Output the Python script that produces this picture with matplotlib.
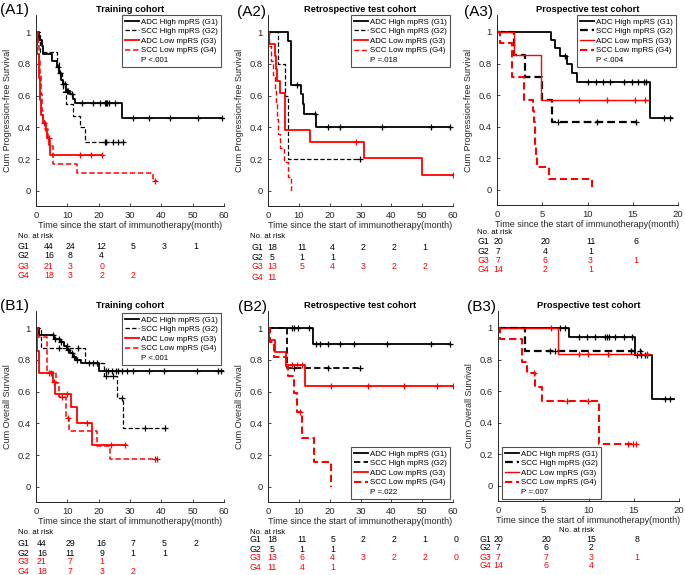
import matplotlib
matplotlib.use("Agg")
import matplotlib.pyplot as plt
import matplotlib.transforms as mtransforms
from matplotlib.lines import Line2D
import numpy as np

plt.rcParams["font.family"] = ["Liberation Sans", "DejaVu Sans"]

W, H = 685, 575
GREY = "#262626"
RED = "#ff0000"

GROUP_LABELS = ["ADC High mpRS (G1)", "SCC High mpRS (G2)",
                "ADC Low mpRS (G3)", "SCC Low mpRS (G4)"]
ROW_NAMES = ["G1", "G2", "G3", "G4"]

# ---- (A1) training cohort, PFS ----
A1_G1_T = [0, 1.0, 2.0, 2.3, 5.0, 6.6, 7.4, 7.9, 8.5, 9.6, 10.9, 11.7, 12.4, 27.3, 59.3]
A1_G1_S = [1, 0.95, 0.91, 0.86, 0.82, 0.78, 0.74, 0.70, 0.67, 0.63, 0.61, 0.58, 0.555, 0.46, 0.46]
A1_G1_C = [7.1, 7.7, 8.7, 9.3, 9.8, 10.3, 11.4, 14.6, 18.3, 20.4, 22.0, 22.3, 22.8, 23.2,
           25.2, 31.1, 36.1, 42.8, 51.8, 59.3]
A1_G2_T = [0, 1.3, 6.8, 7.4, 8.2, 8.7, 9.6, 11.7, 13.9, 15.6, 27.9]
A1_G2_S = [1, 0.875, 0.81, 0.75, 0.69, 0.625, 0.55, 0.47, 0.40, 0.31, 0.31]
A1_G2_C = [22.0, 22.3, 24.7, 26.3, 27.9]
A1_G3_T = [0, 0.4, 1.0, 1.4, 1.7, 2.3, 3.2, 3.6, 4.3, 4.5, 21.0]
A1_G3_S = [1, 0.86, 0.71, 0.57, 0.48, 0.43, 0.38, 0.33, 0.29, 0.225, 0.225]
A1_G3_C = [2.6, 4.0, 14.0, 17.4, 21.0]
A1_G4_T = [0, 0.6, 0.9, 1.2, 1.5, 1.8, 2.1, 2.9, 3.9, 4.5, 5.5, 13.2, 37.2, 38.5]
A1_G4_S = [1, 0.94, 0.83, 0.72, 0.61, 0.5, 0.44, 0.39, 0.33, 0.28, 0.17, 0.11, 0.06, 0.06]
A1_G4_C = [38.0]

# ---- (A2) retrospective test cohort, PFS ----
A2_G1_T = [0, 6.5, 7.4, 10.6, 11.2, 11.8, 15.5, 59.0]
A2_G1_S = [1, 0.945, 0.665, 0.61, 0.55, 0.485, 0.405, 0.405]
A2_G1_C = [9.4, 15.3, 19.4, 23.4, 36.9, 52.9, 59.0]
A2_G2_T = [0, 3.1, 5.6, 6.4, 29.9]
A2_G2_S = [1, 0.8, 0.6, 0.2, 0.2]
A2_G2_C = [29.9]
A2_G3_T = [0, 0.4, 2.2, 2.5, 2.9, 4.0, 5.6, 13.7, 31.0, 49.8, 60.0]
A2_G3_S = [1, 0.923, 0.846, 0.769, 0.692, 0.615, 0.385, 0.308, 0.205, 0.103, 0.103]
A2_G3_C = [28.6, 60.0]
A2_G4_T = [0, 0.3, 1.0, 1.6, 2.2, 2.6, 2.9, 3.3, 3.8, 5.1, 6.5, 7.5]
A2_G4_S = [1, 0.91, 0.82, 0.73, 0.64, 0.55, 0.45, 0.36, 0.27, 0.18, 0.09, 0.0]
A2_G4_C = []

# ---- (A3) prospective test cohort, PFS ----
A3_G1_T = [0, 6.0, 6.4, 7.0, 7.7, 8.3, 8.8, 16.9, 19.3]
A3_G1_S = [1, 0.95, 0.90, 0.85, 0.80, 0.74, 0.68, 0.455, 0.455]
A3_G1_C = [7.5, 10.0, 10.9, 11.7, 12.5, 14.0, 14.9, 15.6, 16.2, 16.5, 18.4, 19.1]
A3_G2_T = [0, 1.85, 3.05, 5.0, 6.1, 15.4]
A3_G2_S = [1, 0.857, 0.714, 0.571, 0.429, 0.429]
A3_G2_C = [6.7, 11.1, 15.4]
A3_G3_T = [0, 1.85, 4.9, 16.8]
A3_G3_S = [1, 0.857, 0.571, 0.571]
A3_G3_C = [9.1, 12.1, 15.2, 16.3]
A3_G4_T = [0, 0.37, 1.65, 2.95, 3.95, 4.05, 4.15, 4.25, 4.35, 4.45, 5.7, 10.5]
A3_G4_S = [1, 0.93, 0.714, 0.571, 0.5, 0.43, 0.357, 0.286, 0.214, 0.143, 0.071, 0.0]
A3_G4_C = []

# ---- (B1) training cohort, OS ----
B1_G1_T = [0, 1.1, 5.7, 7.5, 9.0, 10.0, 11.0, 11.8, 12.8, 14.4, 20.2, 59.8]
B1_G1_S = [1, 0.955, 0.932, 0.91, 0.886, 0.864, 0.841, 0.818, 0.80, 0.777, 0.73, 0.73]
B1_G1_C = [5.5, 6.1, 7.4, 7.9, 9.8, 10.3, 11.4, 12.1, 13.0, 17.0, 18.3, 19.4, 22.3, 23.1,
           24.1, 25.5, 26.3, 27.3, 28.9, 31.1, 36.1, 40.9, 51.3, 58.2, 58.9]
B1_G2_T = [0, 1.5, 15.6, 21.7, 25.7, 27.7, 41.7]
B1_G2_S = [1, 0.875, 0.78, 0.70, 0.56, 0.37, 0.37]
B1_G2_C = [7.4, 13.5, 22.3, 24.7, 27.3, 34.8, 41.2]
B1_G3_T = [0, 0.4, 1.0, 5.3, 6.1, 11.1, 13.2, 17.8, 28.7]
B1_G3_S = [1, 0.857, 0.714, 0.66, 0.585, 0.50, 0.40, 0.265, 0.265]
B1_G3_C = [4.3, 4.7, 5.8, 9.8, 16.4, 23.8, 28.4]
B1_G4_T = [0, 0.7, 3.4, 6.4, 7.4, 9.6, 10.6, 19.6, 23.6, 38.5]
B1_G4_S = [1, 0.945, 0.72, 0.655, 0.565, 0.435, 0.35, 0.26, 0.175, 0.175]
B1_G4_C = [8.2, 10.3, 38.0, 38.5]

# ---- (B2) retrospective test cohort, OS ----
B2_G1_T = [0, 14.6, 59.0]
B2_G1_S = [1, 0.9, 0.9]
B2_G1_C = [7.8, 8.3, 9.7, 13.2, 15.5, 16.9, 19.4, 23.4, 28.0, 38.7, 52.9, 59.0]
B2_G2_T = [0, 6.1, 30.2]
B2_G2_S = [1, 0.75, 0.75]
B2_G2_C = [8.3, 19.4, 29.9]
B2_G3_T = [0, 0.2, 2.2, 5.8, 12.1, 60.0]
B2_G3_S = [1, 0.923, 0.846, 0.769, 0.635, 0.635]
B2_G3_C = [7.8, 9.4, 11.0, 20.5, 32.4, 44.2, 54.7, 60.0]
B2_G4_T = [0, 0.5, 1.8, 5.8, 6.5, 8.5, 9.4, 11.0, 14.8, 20.5]
B2_G4_S = [1, 0.909, 0.818, 0.76, 0.70, 0.59, 0.47, 0.31, 0.157, 0.0]
B2_G4_C = [10.4]

# ---- (B3) prospective test cohort, OS ----
B3_G1_T = [0, 7.9, 15.1, 17.0, 19.5]
B3_G1_S = [1, 0.944, 0.826, 0.551, 0.551]
B3_G1_C = [6.9, 7.4, 8.9, 9.8, 10.7, 11.8, 12.0, 12.3, 12.9, 13.9, 14.8, 15.4, 15.8,
           16.2, 16.5, 18.4, 19.0]
B3_G2_T = [0, 3.0, 15.9]
B3_G2_S = [1, 0.857, 0.857]
B3_G2_C = [5.8, 6.3, 14.7, 15.7]
B3_G3_T = [0, 6.6, 16.8]
B3_G3_S = [1, 0.833, 0.833]
B3_G3_C = [5.9, 9.0, 9.9, 12.2, 16.5]
B3_G4_T = [0, 0.26, 2.65, 3.2, 4.1, 4.9, 11.2, 15.4]
B3_G4_S = [1, 0.929, 0.786, 0.714, 0.625, 0.536, 0.268, 0.268]
B3_G4_C = [4.0, 7.6, 9.9, 14.4, 14.9, 15.3]

# ---- numbers at risk ----
A1_RISK = [[44, 24, 12, 5, 3, 1], [16, 8, 4], [21, 3, 0], [18, 3, 2, 2]]
A2_RISK = [[18, 11, 4, 2, 2, 1], [5, 1, 1], [13, 5, 4, 3, 2, 2], [11]]
A3_RISK = [[20, 20, 11, 6], [7, 4, 1], [7, 6, 3, 1], [14, 2, 1]]
B1_RISK = [[44, 29, 16, 7, 5, 2], [16, 11, 9, 1, 1], [21, 7, 1], [18, 7, 3, 2]]
B2_RISK = [[18, 11, 5, 2, 2, 1, 0], [5, 1, 1], [13, 6, 4, 3, 2, 2, 0], [11, 4, 1]]
B3_RISK = [[20, 20, 15, 8], [7, 6, 2], [7, 7, 3, 1], [14, 6, 4]]

P_TEXT = ["P <.001", "P =.018", "P <.004", "P <.001", "P =.022", "P =.007"]
TITLES = ["Training cohort", "Retrospective test cohort", "Prospective test cohort"] * 2
PANEL_TAGS = ["(A1)", "(A2)", "(A3)", "(B1)", "(B2)", "(B3)"]


def fx(px):
    return px / W


def fy(py):
    return 1 - py / H


fig = plt.figure(figsize=(W / 100, H / 100), dpi=100)

# axes boxes in pixels: x0, x1, ytop, ybot
boxes = [(36, 224, 15, 206), (268, 453, 15, 206), (497, 678, 15, 205),
         (36, 224, 311, 502), (268, 453, 311, 502), (498, 679, 311, 501)]
xmaxes = [60, 60, 20, 60, 60, 20]
curves = [
    [(A1_G1_T, A1_G1_S, A1_G1_C), (A1_G2_T, A1_G2_S, A1_G2_C), (A1_G3_T, A1_G3_S, A1_G3_C), (A1_G4_T, A1_G4_S, A1_G4_C)],
    [(A2_G1_T, A2_G1_S, A2_G1_C), (A2_G2_T, A2_G2_S, A2_G2_C), (A2_G3_T, A2_G3_S, A2_G3_C), (A2_G4_T, A2_G4_S, A2_G4_C)],
    [(A3_G1_T, A3_G1_S, A3_G1_C), (A3_G2_T, A3_G2_S, A3_G2_C), (A3_G3_T, A3_G3_S, A3_G3_C), (A3_G4_T, A3_G4_S, A3_G4_C)],
    [(B1_G1_T, B1_G1_S, B1_G1_C), (B1_G2_T, B1_G2_S, B1_G2_C), (B1_G3_T, B1_G3_S, B1_G3_C), (B1_G4_T, B1_G4_S, B1_G4_C)],
    [(B2_G1_T, B2_G1_S, B2_G1_C), (B2_G2_T, B2_G2_S, B2_G2_C), (B2_G3_T, B2_G3_S, B2_G3_C), (B2_G4_T, B2_G4_S, B2_G4_C)],
    [(B3_G1_T, B3_G1_S, B3_G1_C), (B3_G2_T, B3_G2_S, B3_G2_C), (B3_G3_T, B3_G3_S, B3_G3_C), (B3_G4_T, B3_G4_S, B3_G4_C)],
]
risks = [A1_RISK, A2_RISK, A3_RISK, B1_RISK, B2_RISK, B3_RISK]
ylabels = ["Cum Progression-free Survival"] * 3 + ["Cum Overall Survival"] * 3

# line widths per panel for G1..G4
widths = [(1.3, 0.9, 1.3, 1.1), (1.3, 0.9, 1.3, 1.0), (1.3, 1.6, 1.0, 1.5),
          (1.3, 0.9, 1.3, 1.1), (1.3, 1.3, 1.3, 1.5), (1.3, 1.6, 1.0, 1.5)]
colors = ["black", "black", RED, RED]
styles = ["-", (0, (3.5, 1.8)), "-", (0, (3.5, 1.8))]

# legend anchors (left, top) in px
leg_pos = [(122, 15), (351, 15), (577, 15), (122, 313), (351, 447), (502, 447)]
tag_pos = [(0, 10), (237, 12), (464, 12), (0, 306), (238, 307), (467, 307)]

# risk table layout: header (x, y, ha), row label x, row ys, first col offset
risk_hdr = [(18, 237, "left"), (250, 237, "left"), (477, 233, "left"),
            (18, 533, "left"), (250, 532, "left"), (577, 531, "center")]
risk_lbl_x = [18, 251, 477, 18, 250, 479]
risk_rows = [[247, 256, 266, 276], [248, 257, 267, 277], [242, 251, 260, 270],
             [544, 553, 562, 571], [540, 549, 558, 568], [539, 548, 557, 566]]
first_off = [13, 4, 1, 6, 4, 0]

for i in range(6):
    x0, x1, yt, yb = boxes[i]
    ax = fig.add_axes([fx(x0), fy(yb), (x1 - x0) / W, (yb - yt) / H])
    xmax = xmaxes[i]
    step = 10 if xmax == 60 else 5
    for g in range(4):
        t, s, c = curves[i][g]
        ax.step(t, s, where="post", color=colors[g], lw=widths[i][g],
                linestyle=styles[g])
        if len(c):
            idx = np.searchsorted(t, c, side="right") - 1
            lv = np.array(s)[idx]
            ax.plot(c, lv, "+", color=colors[g], ms=5, mew=0.9)
    ax.set_xlim(0, xmax)
    ax.set_ylim(-0.095, 1.107)
    ax.set_xticks(np.arange(0, xmax + 1, step))
    ax.set_yticks([0, 0.2, 0.4, 0.6, 0.8, 1])
    ax.set_yticklabels(["0", "0.2", "0.4", "0.6", "0.8", "1"])
    for sp in ["top", "right"]:
        ax.spines[sp].set_visible(False)
    for sp in ["left", "bottom"]:
        ax.spines[sp].set_color(GREY)
        ax.spines[sp].set_linewidth(0.7)
    ax.tick_params(direction="in", length=2.5, width=0.6, color=GREY,
                   labelcolor=GREY, labelsize=6.8)
    ax.tick_params(axis="y", pad=4)
    ax.set_xlabel("Time since the start of immunotherapy(month)", fontsize=6.5,
                  color=GREY, labelpad=1)
    ax.set_ylabel(ylabels[i], fontsize=6.5, color=GREY, labelpad=4)
    ax.set_title(TITLES[i], fontsize=6.7, fontweight="bold", pad=2)

    handles = [Line2D([], [], color=colors[g], lw=widths[i][g], linestyle=styles[g])
               for g in range(4)]
    handles.append(Line2D([], [], color="none"))
    lx, ly = leg_pos[i]
    leg = ax.legend(handles, GROUP_LABELS + [P_TEXT[i]], loc="upper left",
                    bbox_to_anchor=(fx(lx), fy(ly)), bbox_transform=fig.transFigure,
                    fontsize=5.7, frameon=True, fancybox=False, borderaxespad=0,
                    handlelength=1.8, handletextpad=0.25, labelspacing=0.25,
                    borderpad=0.4)
    leg.get_frame().set_edgecolor(GREY)
    leg.get_frame().set_linewidth(0.8)

    tx, ty = tag_pos[i]
    fig.text(fx(tx), fy(ty), PANEL_TAGS[i], fontsize=11, va="center", ha="left")

    # numbers at risk
    hx, hy, hha = risk_hdr[i]
    fig.text(fx(hx), fy(hy), "No. at risk", fontsize=5.6, va="center", ha=hha)
    trans = mtransforms.blended_transform_factory(ax.transData, fig.transFigure)
    for g in range(4):
        col = colors[g]
        ry = fy(risk_rows[i][g])
        fig.text(fx(risk_lbl_x[i]), ry, ROW_NAMES[g], fontsize=6.3, color=col,
                 va="center", ha="left")
        for k, n in enumerate(risks[i][g]):
            off = first_off[i] if k == 0 else 3
            tr = mtransforms.offset_copy(trans, fig=fig, x=off, y=0, units="dots")
            ax.text(k * step, ry, str(n), transform=tr, fontsize=6.3, color=col,
                    va="center", ha="center", clip_on=False)

fig.savefig("out.png", dpi=100)
